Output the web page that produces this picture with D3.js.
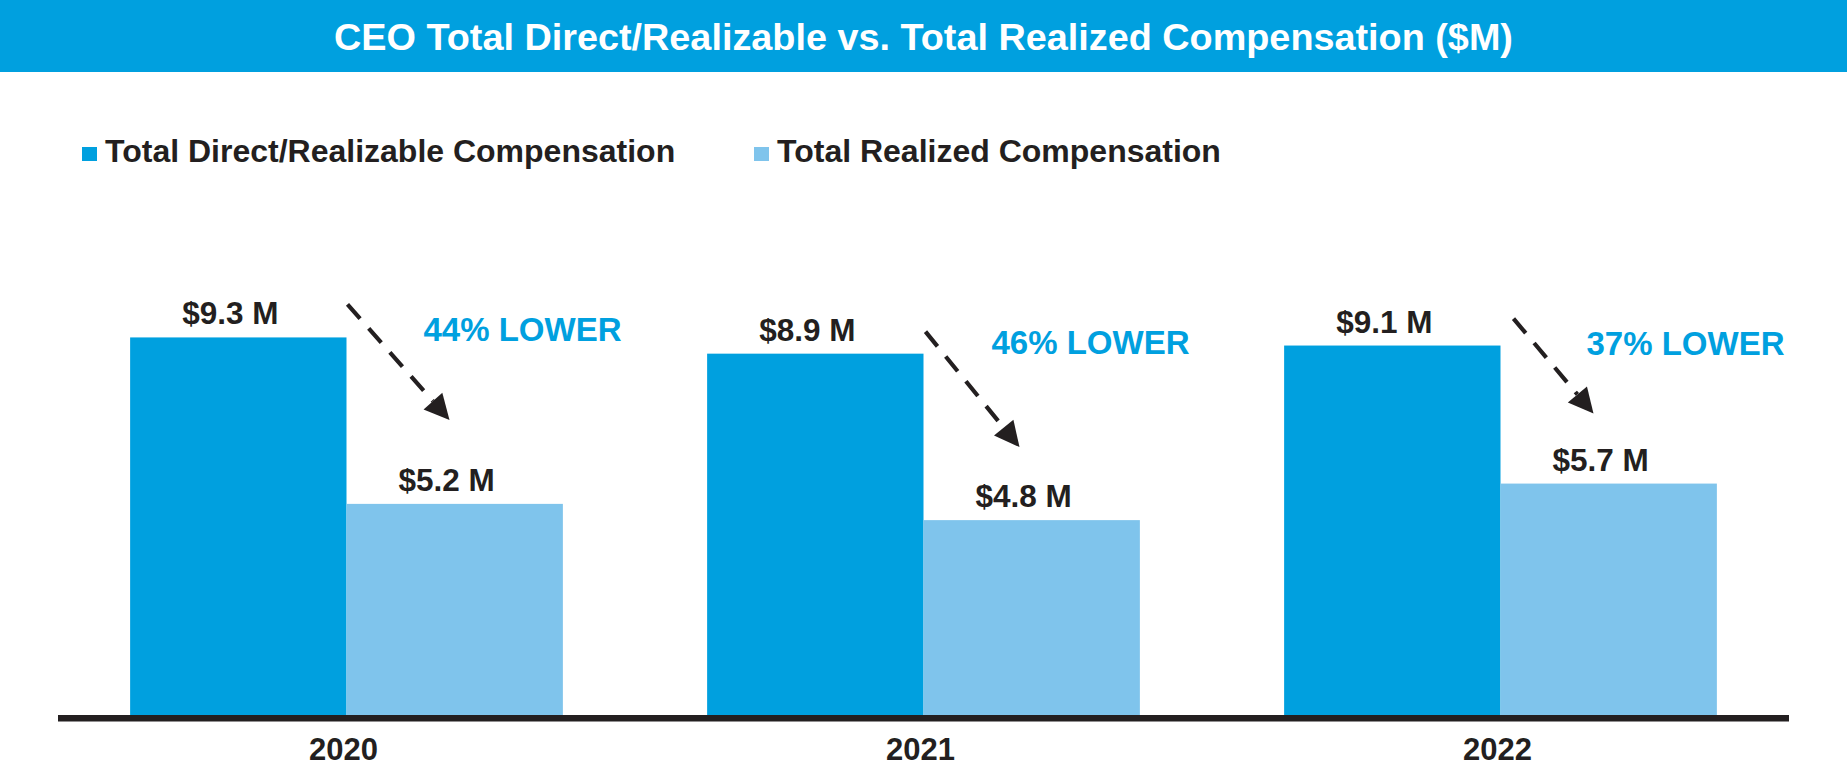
<!DOCTYPE html>
<html>
<head>
<meta charset="utf-8">
<script src="https://cdn.jsdelivr.net/npm/d3@7"></script>
<style>
  html, body { margin: 0; padding: 0; background: #ffffff; }
  svg { display: block; }
  text { font-family: "Liberation Sans", Arial, Helvetica, sans-serif; font-weight: bold; }
</style>
</head>
<body>
<svg id="chart" width="1847" height="774"></svg>
<script>
// ---- data ----
const years = ["2020", "2021", "2022"];
const seriesNames = ["Total Direct/Realizable Compensation", "Total Realized Compensation"];
const directValues = [9.3, 8.9, 9.1];
const realizedValues = [5.2, 4.8, 5.7];
const directLabels = ["$9.3 M", "$8.9 M", "$9.1 M"];
const realizedLabels = ["$5.2 M", "$4.8 M", "$5.7 M"];
const lowerLabels = ["44% LOWER", "46% LOWER", "37% LOWER"];
const titleText = "CEO Total Direct/Realizable vs. Total Realized Compensation ($M)";

// ---- layout / style (not data) ----
const W = 1847, H = 774;
const darkBlue = "#00A0DF", lightBlue = "#7FC4EC", ink = "#231F20";
const colors = [darkBlue, lightBlue];
// annotation offsets relative to group centre / bar tops
const annoLayout = [
  { tdx: 77, tdy: 4,  sdx: 1,  sdy: -33, edx: 103, edy: -84 },
  { tdx: 68, tdy: 0,  sdx: 2,  sdy: -22, edx: 96,  edy: -73 },
  { tdx: 86, tdy: 9,  sdx: 13, sdy: -27, edx: 93,  edy: -70 }
];

const svg = d3.select("#chart");

// title bar
svg.append("rect").attr("x", 0).attr("y", 0).attr("width", W).attr("height", 72).attr("fill", darkBlue);
svg.append("text").attr("x", W / 2).attr("y", 50).attr("text-anchor", "middle")
  .attr("fill", "#ffffff").attr("font-size", 37.8).text(titleText);

// legend
const legendX = [82, 754];
seriesNames.forEach((name, i) => {
  svg.append("rect").attr("x", legendX[i]).attr("y", 147).attr("width", 15).attr("height", 14).attr("fill", colors[i]);
  svg.append("text").attr("x", legendX[i] + 23).attr("y", 162).attr("font-size", 32)
    .attr("fill", ink).text(name);
});

// scales
const x0 = d3.scaleBand().domain(years).range([58, 1789]).paddingInner(0.25).paddingOuter(0.125);
const x1 = d3.scaleBand().domain([0, 1]).range([0, x0.bandwidth()]).padding(0);
const y = d3.scaleLinear().domain([0, 10]).range([715, 309]);

const rows = years.map((yr, i) => ({ yr, i, vals: [directValues[i], realizedValues[i]], labs: [directLabels[i], realizedLabels[i]] }));

const g = svg.append("g");
const groups = g.selectAll("g.grp").data(rows).join("g").attr("class", "grp")
  .attr("transform", d => `translate(${x0(d.yr)},0)`);

groups.selectAll("rect").data(d => d.vals.map((v, k) => ({ v, k }))).join("rect")
  .attr("x", d => x1(d.k)).attr("width", x1.bandwidth())
  .attr("y", d => y(d.v)).attr("height", d => y(0) - y(d.v))
  .attr("fill", d => colors[d.k]);

groups.selectAll("text.val").data(d => d.vals.map((v, k) => ({ v, k, lab: d.labs[k] }))).join("text")
  .attr("class", "val")
  .attr("x", d => x1(d.k) + x1.bandwidth() / 2 - 8)
  .attr("y", d => y(d.v) - 13)
  .attr("text-anchor", "middle").attr("font-size", 31.5).attr("fill", ink)
  .text(d => d.lab);

// axis line
svg.append("rect").attr("x", 58).attr("y", 715).attr("width", 1731).attr("height", 6.5).attr("fill", ink);

// x axis labels
const xAxis = d3.axisBottom(x0).tickSize(0).tickPadding(0);
const ax = svg.append("g").attr("transform", "translate(-3,760)").call(xAxis);
ax.select(".domain").remove();
ax.selectAll("text").attr("font-size", 31).attr("fill", ink).attr("dy", 0)
  .attr("font-family", "'Liberation Sans', Arial, Helvetica, sans-serif").attr("font-weight", "bold");

// annotations: dashed arrows and % lower text
rows.forEach((d, i) => {
  const cx = x0(d.yr) + x0.bandwidth() / 2;
  const yD = y(directValues[i]), yL = y(realizedValues[i]);
  const a = annoLayout[i];
  const sx = cx + a.sdx, sy = yD + a.sdy, ex = cx + a.edx, ey = yL + a.edy;
  const len = Math.hypot(ex - sx, ey - sy);
  const ux = (ex - sx) / len, uy = (ey - sy) / len;
  const headL = 25, headW = 25;
  const bx = ex - ux * headL, by = ey - uy * headL;
  svg.append("line").attr("x1", sx).attr("y1", sy).attr("x2", bx).attr("y2", by)
    .attr("stroke", ink).attr("stroke-width", 4.2).attr("stroke-dasharray", "19 13");
  const nx = -uy, ny = ux;
  svg.append("polygon")
    .attr("points", [[ex, ey], [bx + nx * headW / 2, by + ny * headW / 2], [bx - nx * headW / 2, by - ny * headW / 2]].map(p => p.join(",")).join(" "))
    .attr("fill", ink);
  svg.append("text").attr("x", cx + a.tdx).attr("y", yD + a.tdy)
    .attr("font-size", 33).attr("fill", darkBlue).text(lowerLabels[i]);
});
</script>
</body>
</html>
